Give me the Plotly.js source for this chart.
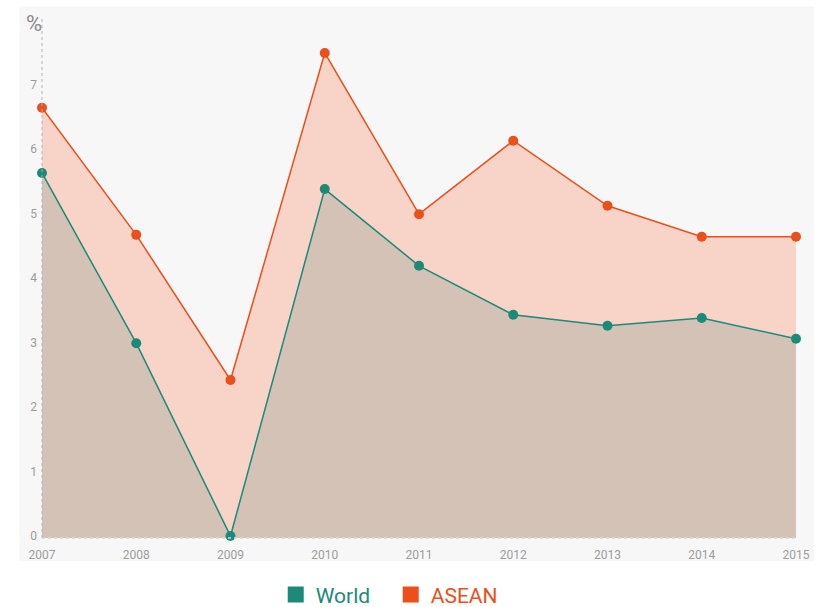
<!DOCTYPE html>
<html>
<head>
<meta charset="utf-8">
<script src="https://cdn.plot.ly/plotly-3.0.1.min.js"></script>
<style>html,body{margin:0;padding:0;background:#fff;}#chart{width:833px;height:607px;}</style>
</head>
<body>
<div id="chart"></div>
<script>
const years = [2007, 2008, 2009, 2010, 2011, 2012, 2013, 2014, 2015];
const asean = [6.67, 4.70, 2.45, 7.52, 5.02, 6.16, 5.15, 4.67, 4.67];
const world = [5.66, 3.02, 0.03, 5.41, 4.22, 3.46, 3.29, 3.41, 3.09];
const yTicks = [0, 1, 2, 3, 4, 5, 6, 7];

const teal = '#1b8a78';
const orange = '#ea4f1c';

const traces = [
  {
    x: years, y: asean, type: 'scatter', mode: 'lines+markers', name: 'ASEAN',
    fill: 'tozeroy', fillcolor: 'rgba(248,200,184,0.75)',
    line: {color: orange, width: 1.5},
    marker: {color: orange, size: 10},
    showlegend: false, cliponaxis: false
  },
  {
    x: years, y: world, type: 'scatter', mode: 'lines+markers', name: 'World',
    fill: 'tozeroy', fillcolor: '#d5c2b7',
    line: {color: teal, width: 1.5},
    marker: {color: teal, size: 10},
    showlegend: false, cliponaxis: false
  },
  {
    x: [null], y: [null], type: 'scatter', mode: 'markers',
    name: '<span style="color:' + teal + '">World</span>',
    marker: {color: teal, size: 21, symbol: 'square'}
  },
  {
    x: [null], y: [null], type: 'scatter', mode: 'markers',
    name: '<span style="color:' + orange + '">ASEAN</span>',
    marker: {color: orange, size: 21, symbol: 'square'}
  }
];

const layout = {
  width: 833, height: 607,
  margin: {l: 42, r: 37, t: 22, b: 69},
  paper_bgcolor: '#ffffff',
  plot_bgcolor: 'rgba(0,0,0,0)',
  font: {family: 'Roboto, "Open Sans", sans-serif', color: '#9a9a9a'},
  xaxis: {
    range: [2007, 2015], tickvals: years, ticktext: years.map(String),
    showgrid: false, zeroline: false, showline: false, ticks: '',
    tickfont: {size: 12, color: '#9c9c9c'}, ticklabelstandoff: 8, automargin: false
  },
  yaxis: {
    range: [0, 8], tickvals: yTicks, ticktext: yTicks.map(String),
    showgrid: false, zeroline: false, showline: false, ticks: '',
    tickfont: {size: 12, color: '#9c9c9c'}, ticklabelstandoff: 4, ticklabelshift: -2, automargin: false
  },
  showlegend: true,
  legend: {
    orientation: 'h', xref: 'container', yref: 'container',
    x: 0.331, xanchor: 'left', y: 0.02, yanchor: 'middle',
    font: {size: 21}, itemwidth: 30, entrywidth: 70, tracegroupgap: 0
  },
  shapes: [
    {type: 'rect', xref: 'paper', yref: 'paper', x0: -0.03, x1: 1.024, y0: -0.045, y1: 1.03,
     fillcolor: '#f7f7f7', line: {width: 0}, layer: 'below'},
    {type: 'line', xref: 'paper', yref: 'paper', x0: 0, x1: 0, y0: 0, y1: 1.01,
     line: {color: '#b0b0b0', width: 1, dash: 'dot'}, layer: 'above'},
    {type: 'line', xref: 'paper', yref: 'paper', x0: 0, x1: 1, y0: 0, y1: 0,
     line: {color: '#d8d8d8', width: 1.5, dash: 'dot'}, layer: 'above'}
  ],
  annotations: [
    {text: '%', xref: 'paper', yref: 'paper', x: 0, y: 1.0, xanchor: 'right', yanchor: 'bottom',
     xshift: 2, yshift: -16, showarrow: false, font: {size: 22, color: '#8a8a8a'}}
  ]
};

Plotly.newPlot('chart', traces, layout, {displayModeBar: false, staticPlot: true});
</script>
</body>
</html>
